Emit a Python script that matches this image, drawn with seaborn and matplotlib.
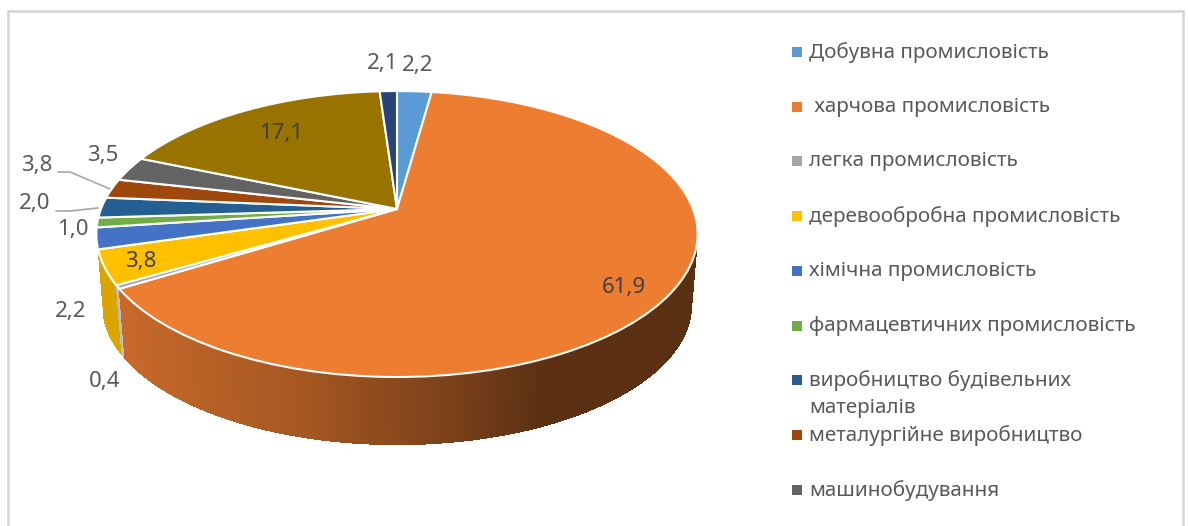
import numpy as np
import seaborn as sns
import matplotlib
matplotlib.use('Agg')
import matplotlib.pyplot as plt
from matplotlib.collections import PolyCollection
from matplotlib.transforms import Transform

# legend only shows the first nine entries, the rest is cut off in the source
legend_names = ['Добувна промисловість', ' харчова промисловість', 'легка промисловість',
                'деревообробна промисловість', 'хімічна промисловість',
                'фармацевтичних промисловість', 'виробництво будівельних\nматеріалів',
                'металургійне виробництво', 'машинобудування']
# numbers printed on the chart
values = [2.2, 61.9, 0.4, 3.8, 2.2, 1.0, 2.0, 3.8, 3.5, 17.1, 2.1]
# slice sizes, the source slices do not follow the printed numbers exactly
slice_shares = [2.2, 64.1, 0.4, 3.9, 2.4, 1.1, 2.3, 2.2, 2.8, 17.6, 1.1]
hex_colors = ['#5B9BD5', '#ED7D31', '#A5A5A5', '#FFC000', '#4472C4', '#70AD47',
              '#255E91', '#9E480E', '#636363', '#997300', '#264478']
# where each data label sits, in picture pixels
label_pos = [(418, 65), (624, 287), (105, 381), (141, 262), (71, 312), (73, 230),
             (35, 204), (37, 165), (103, 155), (281, 134), (383, 63)]

CX, CY, A, B, K = 397, 209, 296, 138.6, 0.175
WALL, SHRINK = 71, 0.98
TEXT = '#595959'


def project(x, y):
    w = 1 + K * y
    return CX + A * x / w, CY - B * y / w


class Persp(Transform):
    input_dims = 2
    output_dims = 2

    def transform_non_affine(self, xy):
        xy = np.asarray(xy)
        return np.column_stack(project(xy[:, 0], xy[:, 1]))


def wall_shade(px):
    # side of the pie gets darker from left to right
    return np.interp(px, [120, 300, 450, 540, 700], [0.84, 0.70, 0.52, 0.39, 0.38])


sns.set_theme(style='white')
plt.rcParams['font.family'] = ['Noto Sans', 'DejaVu Sans']
palette = sns.color_palette(hex_colors)

fig, ax = plt.subplots(figsize=(11.88, 5.26), dpi=100)
fig.subplots_adjust(0, 0, 1, 1)

wedges, _ = ax.pie(slice_shares, startangle=90, counterclock=False, colors=palette,
                   wedgeprops={'edgecolor': 'white', 'linewidth': 1.5, 'zorder': 3})
persp = Persp()
for w in wedges:
    w.set_transform(persp + ax.transData)

ax.set_aspect('auto')
ax.set_xlim(0, 1188)
ax.set_ylim(526, 0)
ax.axis('off')

# side wall, only the orange, grey and yellow slices show one
quads = []
for idx, w in enumerate(wedges):
    if idx not in (1, 2, 3):
        continue
    col = palette[idx]
    n = max(2, int((w.theta2 - w.theta1) / 0.5))
    th = np.radians(np.linspace(w.theta1, w.theta2, n))
    xs, ys = np.cos(th), np.sin(th)
    tx, ty = project(xs, ys)
    bx = CX + (tx - CX) * SHRINK
    by = CY + (ty - CY) * SHRINK + WALL
    for i in range(n - 1):
        shade = wall_shade((tx[i] + tx[i + 1]) / 2)
        if idx == 3:
            shade = 0.86
        elif idx == 2:
            shade = 1.15
        c = tuple(min(1, v * shade) for v in col)
        poly = [(tx[i], ty[i]), (tx[i + 1], ty[i + 1]), (bx[i + 1], by[i + 1]), (bx[i], by[i])]
        quads.append((ys[i], poly, c))
quads.sort(key=lambda q: -q[0])
ax.add_collection(PolyCollection([q[1] for q in quads], facecolors=[q[2] for q in quads],
                                 edgecolors='none', antialiased=False, zorder=1))

# data labels
for i, (val, (px, py)) in enumerate(zip(values, label_pos)):
    ax.text(px, py, f'{val:.1f}'.replace('.', ','), ha='center', va='center',
            fontsize=16, color='#404040' if i in (1, 3, 9) else TEXT, zorder=5)

# leader lines
ax.plot([58, 70, 110], [172, 172, 189], color='#A6A6A6', lw=1.2, zorder=2)
ax.plot([56, 70, 98], [211, 211, 208], color='#A6A6A6', lw=1.2, zorder=2)

# legend
for i, name in enumerate(legend_names):
    y = 52 + 54.7 * i
    ax.scatter([796.5], [y], marker='s', s=42, color=palette[i], linewidths=0, zorder=5)
    ax.text(809, y - 10, name, ha='left', va='top', fontsize=14.9, color=TEXT,
            linespacing=1.45, zorder=5)

# chart frame
ax.plot([8, 8, 1183, 1183], [526, 11, 11, 526], color='#D9D9D9', lw=2, zorder=0,
        solid_joinstyle='miter')

fig.savefig('out.png', dpi=100)
